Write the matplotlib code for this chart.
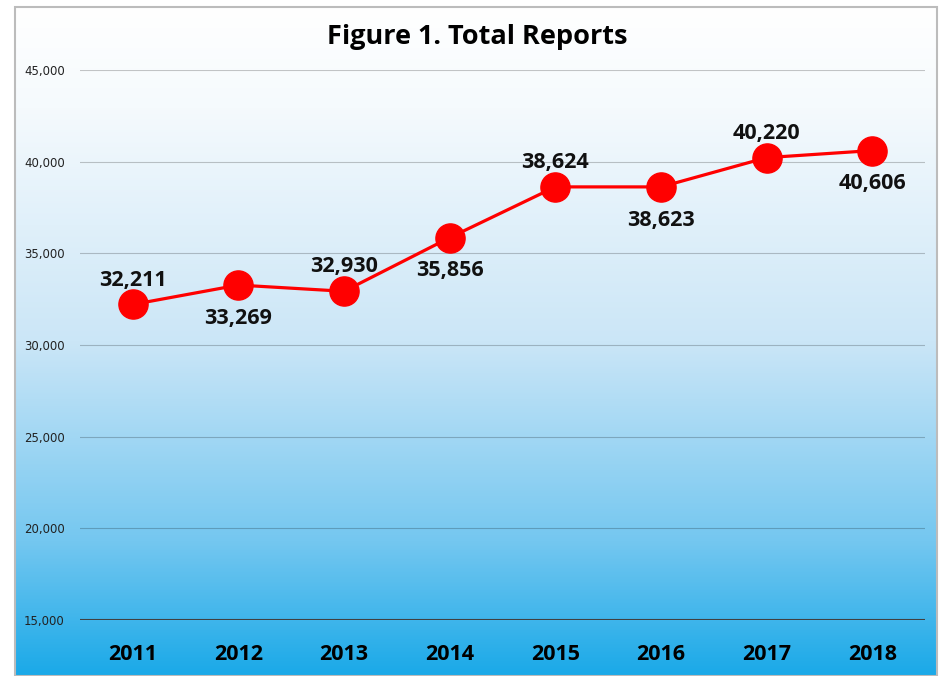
import numpy as np
import matplotlib.pyplot as plt
from matplotlib.colors import LinearSegmentedColormap
from matplotlib.patches import Rectangle

years = ['2011', '2012', '2013', '2014', '2015', '2016', '2017', '2018']
reports = [32211, 33269, 32930, 35856, 38624, 38623, 40220, 40606]
label_pos = ['above', 'below', 'above', 'below', 'above', 'below', 'above', 'below']
yticks = [15000, 20000, 25000, 30000, 35000, 40000, 45000]

fig = plt.figure(figsize=(9.45, 6.76), dpi=100)

# gradient background of the chart box
bg = fig.add_axes([15/945, 0, (937-15)/945, 1-7/676])
cmap = LinearSegmentedColormap.from_list('bg', [
    (0.0, '#ffffff'), (0.15, '#f5fafd'), (0.5, '#cbe6f7'),
    (0.8, '#74c7f0'), (1.0, '#1aa9e8')])
grad = np.linspace(0, 1, 256).reshape(-1, 1)
bg.imshow(grad, aspect='auto', cmap=cmap, extent=[0, 1, 0, 1], origin='upper')
bg.set_xlim(0, 1)
bg.set_ylim(0, 1)
bg.axis('off')
bg.add_patch(Rectangle((0, 0), 1, 1, fill=False, edgecolor='#bcbcbc', lw=1.5,
                       transform=bg.transAxes, clip_on=False))

ax = fig.add_axes([80/945, 1-620/676, (925-80)/945, (620-70)/676])
ax.patch.set_alpha(0)
x = np.arange(len(years))
ax.plot(x, reports, color='#ff0000', lw=2.3, marker='o', markersize=21,
        markerfacecolor='#ff0000', markeredgecolor='#ff0000', zorder=5)

for xi, v, pos in zip(x, reports, label_pos):
    dy = 17.5 if pos == 'above' else -24
    ax.annotate(f'{v:,}', (xi, v), xytext=(0, dy), textcoords='offset points',
                ha='center', va='center', fontsize=15.5, fontweight='bold',
                family='Open Sans', color='#111111', zorder=6)

ax.set_xlim(-0.5, len(years) - 0.5)
ax.set_ylim(15000, 45000)
ax.set_yticks(yticks)
ax.set_yticklabels([f'{t:,}' for t in yticks], fontsize=8.5, color='#222222')
ax.set_xticks(x)
ax.set_xticklabels(years, fontsize=15.5, fontweight='bold', family='Open Sans')
ax.tick_params(length=0)
ax.tick_params(axis='x', pad=17)
ax.tick_params(axis='y', pad=11)
for yt in yticks[1:]:
    ax.axhline(yt, color='black', alpha=0.22, lw=0.8, zorder=1)
ax.axhline(15000, color='#404040', lw=1.5, zorder=2)
for s in ax.spines.values():
    s.set_visible(False)

fig.text(477/945, 1-37/676, 'Figure 1. Total Reports', ha='center', va='center',
         fontsize=19.5, fontweight='bold', family='Open Sans')

fig.savefig('out.png', dpi=100)
